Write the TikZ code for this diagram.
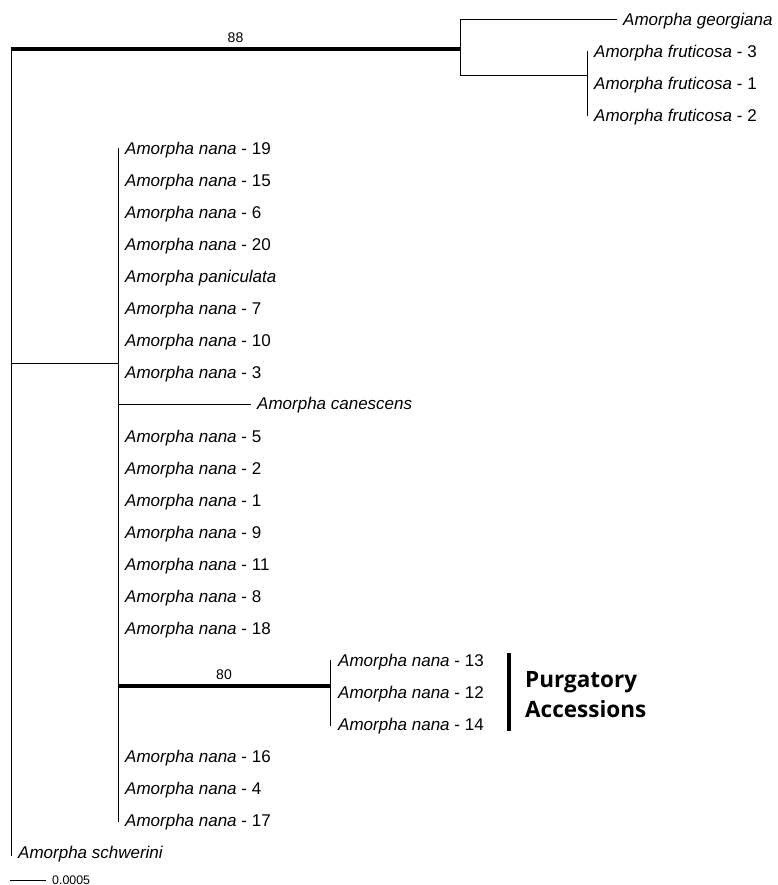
\documentclass[tikz,border=0pt]{standalone}
\usepackage{fontspec}
\setmainfont{Liberation Sans}
\newfontfamily\boldsans{Open Sans}
\begin{document}
\begin{tikzpicture}[x=1pt,y=-1pt,
  br/.style={line width=1pt, line cap=rect},
  bigbr/.style={line width=4.5pt},
  leaf/.style={anchor=base west, inner sep=0pt, yshift=-5.8pt, font=\fontsize{17}{20}\selectfont},
  supp/.style={inner sep=0pt, font=\fontsize{14}{16}\selectfont}]
\useasboundingbox (0,0) rectangle (777,885);
% internal nodes
\coordinate (root) at (11,49);
\coordinate (rootb) at (11,855);
\coordinate (ng) at (460,49);
\coordinate (ngt) at (460,20);
\coordinate (ngb) at (460,76);
\coordinate (nf) at (587,76);
\coordinate (nft) at (587,52);
\coordinate (nfb) at (587,116);
\coordinate (rn) at (11,363);
\coordinate (nn) at (118,363);
\coordinate (nnt) at (118,149);
\coordinate (nnb) at (118,821);
\coordinate (nc) at (118,404);
\coordinate (np) at (118,686);
\coordinate (pp) at (330,686);
\coordinate (ppt) at (330,660);
\coordinate (ppb) at (330,725);
\coordinate (ge) at (616,20);
\coordinate (ce) at (250,404);
% leaves
\node[leaf] (geo) at (623,20) {\textit{Amorpha georgiana}};
\node[leaf] (fr3) at (594,52) {\textit{Amorpha fruticosa} - 3};
\node[leaf] (fr1) at (594,84) {\textit{Amorpha fruticosa} - 1};
\node[leaf] (fr2) at (594,116) {\textit{Amorpha fruticosa} - 2};
\node[leaf] (n19) at (125,149) {\textit{Amorpha nana} - 19};
\node[leaf] (n15) at (125,181) {\textit{Amorpha nana} - 15};
\node[leaf] (n6) at (125,213) {\textit{Amorpha nana} - 6};
\node[leaf] (n20) at (125,245) {\textit{Amorpha nana} - 20};
\node[leaf] (pan) at (125,277) {\textit{Amorpha paniculata}};
\node[leaf] (n7) at (125,309) {\textit{Amorpha nana} - 7};
\node[leaf] (n10) at (125,341) {\textit{Amorpha nana} - 10};
\node[leaf] (n3) at (125,373) {\textit{Amorpha nana} - 3};
\node[leaf] (can) at (257,404) {\textit{Amorpha canescens}};
\node[leaf] (n5) at (125,437) {\textit{Amorpha nana} - 5};
\node[leaf] (n2) at (125,469) {\textit{Amorpha nana} - 2};
\node[leaf] (n1) at (125,501) {\textit{Amorpha nana} - 1};
\node[leaf] (n9) at (125,533) {\textit{Amorpha nana} - 9};
\node[leaf] (n11) at (125,565) {\textit{Amorpha nana} - 11};
\node[leaf] (n8) at (125,597) {\textit{Amorpha nana} - 8};
\node[leaf] (n18) at (125,629) {\textit{Amorpha nana} - 18};
\node[leaf] (n13) at (338,661) {\textit{Amorpha nana} - 13};
\node[leaf] (n12) at (338,693) {\textit{Amorpha nana} - 12};
\node[leaf] (n14) at (338,725) {\textit{Amorpha nana} - 14};
\node[leaf] (n16) at (125,757) {\textit{Amorpha nana} - 16};
\node[leaf] (n4) at (125,789) {\textit{Amorpha nana} - 4};
\node[leaf] (n17) at (125,821) {\textit{Amorpha nana} - 17};
\node[leaf] (sch) at (18,853) {\textit{Amorpha schwerini}};
% branches
\draw[br] (root) -- (rootb);
\draw[bigbr] (root) -- node[supp, above=4.5pt] (s88) {88} (ng);
\draw[br] (ngt) -- (ngb);
\draw[br] (ngt) -- (ge);
\draw[br] (ngb) -- (nf);
\draw[br] (nft) -- (nfb);
\draw[br] (rn) -- (nn);
\draw[br] (nnt) -- (nnb);
\draw[br] (nc) -- (ce);
\draw[bigbr] (np) -- node[supp, above=4.5pt] (s80) {80} (pp);
\draw[br] (ppt) -- (ppb);
% purgatory bar
\coordinate (pbt) at (509,653);
\coordinate (pbb) at (509,731);
\draw[line width=4pt] (pbt) -- (pbb);
\node[anchor=base west, inner sep=0pt, align=left, font=\boldsans\bfseries\fontsize{22.5}{30}\selectfont] (purg) at (525,717) {Purgatory\\Accessions};
% scale bar
\coordinate (sb1) at (10,880.5);
\coordinate (sb2) at (46,880.5);
\draw[br, line cap=butt] (sb1) -- (sb2);
\node[anchor=base west, inner sep=0pt, font=\fontsize{12.4}{14}\selectfont] (sbl) at (52,884) {0.0005};
\end{tikzpicture}
\end{document}
